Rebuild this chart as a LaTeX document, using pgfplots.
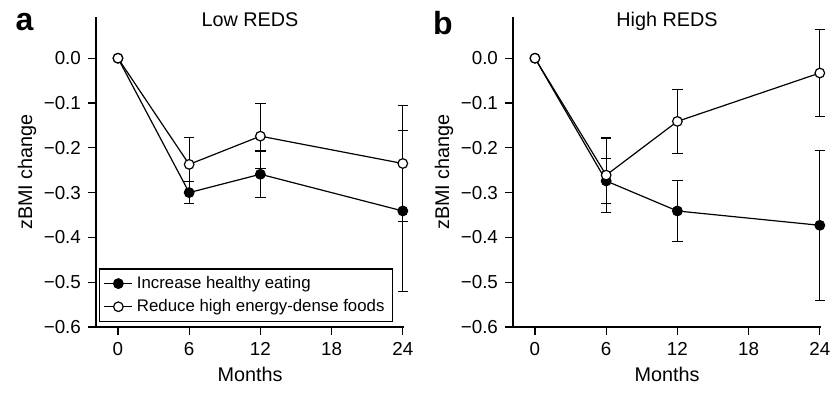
\documentclass[border=0pt]{standalone}
\usepackage{fontspec}
\setmainfont{Liberation Sans}
\usepackage{pgfplots}
\usepackage{pgfplotstable}
\pgfplotsset{compat=1.18}

\pgfplotstableread{
x y e
0 0 0
6 -0.300 0.025
12 -0.259 0.052
24 -0.341 0.180
}\aFilled
\pgfplotstableread{
x y e
0 0 0
6 -0.237 0.060
12 -0.174 0.073
24 -0.235 0.129
}\aOpen
\pgfplotstableread{
x y e
0 0 0
6 -0.274 0.050
12 -0.341 0.068
24 -0.373 0.167
}\bFilled
\pgfplotstableread{
x y e
0 0 0
6 -0.261 0.083
12 -0.141 0.071
24 -0.033 0.097
}\bOpen

\newcommand{\lblfont}{\fontsize{9.9}{12}\selectfont}
\pgfplotsset{
  myaxis/.style={
    scale only axis, width=154pt, height=155pt,
    xmin=-1.85, xmax=24.1, ymin=-0.6, ymax=0.092,
    axis x line=bottom, axis y line=left,
    axis line style={-, line width=0.65pt, black},
    tick align=outside, major tick length=4pt,
    tick style={line width=0.65pt, black},
    xtick={0,6,12,18,24},
    xticklabels={0,6,12,18,24},
    ytick={-0.6,-0.5,-0.4,-0.3,-0.2,-0.1,0},
    yticklabels={−0.6,−0.5,−0.4,−0.3,−0.2,−0.1,0.0},
    ticklabel style={font=\fontsize{9.4}{11}\selectfont},
    xlabel={Months},
    xlabel style={at={(axis description cs:0.5,-0.176)}, anchor=base, font=\lblfont},
    ylabel={zBMI change},
    ylabel style={at={(axis description cs:-0.224,0.5)}, anchor=center, font=\lblfont},
    clip=false,
  },
  filledser/.style={black, line width=0.6pt, mark=*, mark size=2.4pt,
    mark options={fill=black, draw=black, solid},
    error bars/.cd, y dir=both, y explicit,
    error bar style={line width=0.6pt, black},
    error mark options={rotate=90, mark size=2.6pt, line width=0.6pt, black}},
  openser/.style={black, line width=0.6pt, mark=*, mark size=2.4pt,
    mark options={fill=white, draw=black, solid},
    error bars/.cd, y dir=both, y explicit,
    error bar style={line width=0.6pt, black},
    error mark options={rotate=90, mark size=2.6pt, line width=0.6pt, black}},
}

\begin{document}
\begin{tikzpicture}
\useasboundingbox (-48pt,-32.5pt) rectangle (368pt,163.5pt);
\begin{axis}[myaxis, at={(0pt,0pt)}, anchor=south west,
  legend cell align=left,
  legend style={at={(axis description cs:0.01,0.016)}, anchor=south west,
    draw=black, line width=0.7pt, inner xsep=2pt, inner ysep=1.5pt,
    font=\fontsize{8.4}{10}\selectfont, row sep=0pt},
  legend image code/.code={\draw[mark repeat=2,mark phase=2] plot coordinates {(0pt,0pt)(7pt,0pt)(14pt,0pt)};},
]
\addplot[filledser] table[x=x, y=y, y error=e] {\aFilled};
\addlegendentry{Increase healthy eating}
\addplot[openser] table[x=x, y=y, y error=e] {\aOpen};
\addlegendentry{Reduce high energy-dense foods}
\node[anchor=base, font=\lblfont] at (axis description cs:0.5,0.971) {Low REDS};
\node[anchor=base, font=\bfseries\fontsize{16}{16}\selectfont] at (axis description cs:-0.232,0.958) {a};
\end{axis}
\begin{axis}[myaxis, at={(208.5pt,0pt)}, anchor=south west]
\addplot[filledser] table[x=x, y=y, y error=e] {\bFilled};
\addplot[openser] table[x=x, y=y, y error=e] {\bOpen};
\node[anchor=base, font=\lblfont] at (axis description cs:0.5,0.971) {High REDS};
\node[anchor=base, font=\bfseries\fontsize{16}{16}\selectfont] at (axis description cs:-0.228,0.942) {b};
\end{axis}
\end{tikzpicture}
\end{document}
